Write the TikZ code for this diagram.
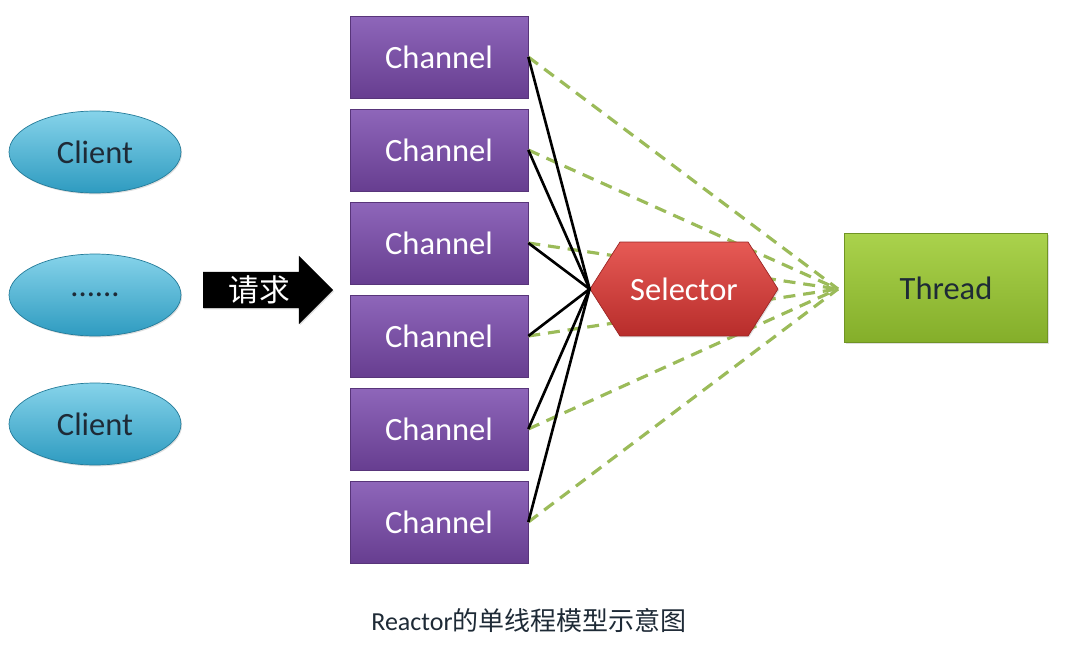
\documentclass[tikz,border=0pt]{standalone}
\usepackage{fontspec}
\setmainfont{Carlito}
\newfontfamily\cjk{Noto Sans CJK SC}
\usetikzlibrary{shapes.geometric,shapes.symbols,shapes.arrows,shadows}

\definecolor{clientTop}{HTML}{86D3EA}
\definecolor{clientBot}{HTML}{2E9BC0}
\definecolor{chanTop}{HTML}{8E66BA}
\definecolor{chanBot}{HTML}{673E90}
\definecolor{selTop}{HTML}{E65A55}
\definecolor{selBot}{HTML}{B82D2B}
\definecolor{thrTop}{HTML}{AAD24C}
\definecolor{thrBot}{HTML}{84AE2A}
\definecolor{dashGreen}{HTML}{9BBB59}
\definecolor{darkText}{HTML}{1E2A36}

\tikzset{
    boxfont/.style={font=\fontsize{18.5}{20}\selectfont},
    softshadow/.style={drop shadow={opacity=0.25, shadow xshift=0.6pt, shadow yshift=-0.8pt}},
    client/.style={ellipse, boxfont, softshadow, top color=clientTop, bottom color=clientBot, draw=clientBot!80!black, line width=0.4pt, minimum width=3.44cm, minimum height=1.64cm, text=darkText},
    channel/.style={rectangle, boxfont, softshadow, top color=chanTop, bottom color=chanBot, draw=chanBot!85!black, line width=0.4pt, minimum width=3.56cm, minimum height=1.64cm, text=white},
    link/.style={line width=1.5pt, black},
    poll/.style={line width=1.8pt, dashGreen, dash pattern=on 6.8pt off 4.5pt}
}

\begin{document}
\begin{tikzpicture}[x=0.02cm, y=-0.02cm]
    \useasboundingbox (0,0) rectangle (1066,646);

    % Clients
    \node[client] (client1) at (95,152) {Client};
    \node[client] (client2) at (95,295) {......};
    \node[client] (client3) at (95,424) {Client};

    % Request arrow
    \node[single arrow, fill=black, text=white, softshadow, minimum height=2.6cm, minimum width=1.34cm, single arrow head extend=0.32cm, inner ysep=2pt, font=\cjk\fontsize{17.5}{18}\selectfont] (request) at (259,290) {请求};

    % Channels
    \node[channel] (chan1) at (439,57) {Channel};
    \node[channel] (chan2) at (439,150) {Channel};
    \node[channel] (chan3) at (439,243) {Channel};
    \node[channel] (chan4) at (439,336) {Channel};
    \node[channel] (chan5) at (439,429) {Channel};
    \node[channel] (chan6) at (439,522) {Channel};

    % Thread
    \node[rectangle, boxfont, softshadow, top color=thrTop, bottom color=thrBot, draw=thrBot!85!black, line width=0.4pt, minimum width=4.06cm, minimum height=2.18cm, text=darkText] (thread) at (946,288) {Thread};
    \coordinate (meet) at (838,289);

    % Channels polled by the thread (behind the selector)
    \draw[poll] (chan1.east) -- (meet);
    \draw[poll] (chan2.east) -- (meet);
    \draw[poll] (chan3.east) -- (meet);
    \draw[poll] (chan4.east) -- (meet);
    \draw[poll] (chan5.east) -- (meet);
    \draw[poll] (chan6.east) -- (meet);

    % Selector
    \node[signal, signal to=west and east, signal pointer angle=115, boxfont, softshadow, top color=selTop, bottom color=selBot, draw=selBot!85!black, line width=0.4pt, minimum width=3.76cm, minimum height=1.88cm, text=white] (selector) at (684,289) {Selector};

    % Channels registered on the selector
    \draw[link] (chan1.east) -- (selector.west);
    \draw[link] (chan2.east) -- (selector.west);
    \draw[link] (chan3.east) -- (selector.west);
    \draw[link] (chan4.east) -- (selector.west);
    \draw[link] (chan5.east) -- (selector.west);
    \draw[link] (chan6.east) -- (selector.west);

    % Caption
    \node[text=darkText, font=\fontsize{14.8}{16}\selectfont] (caption) at (529,620) {Reactor{\cjk 的单线程模型示意图}};
\end{tikzpicture}
\end{document}
